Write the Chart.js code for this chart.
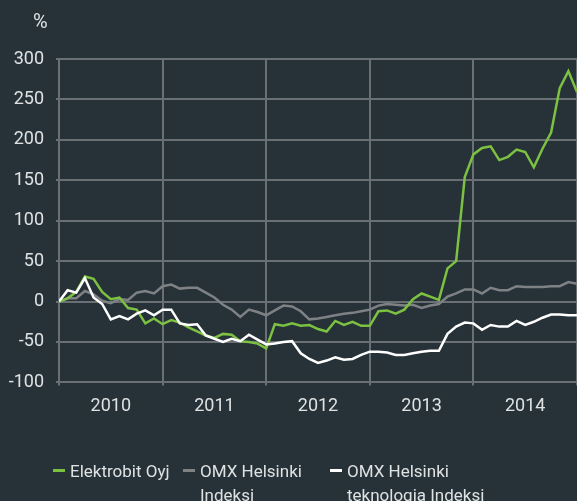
<!DOCTYPE html>
<html>
<head>
<meta charset="utf-8">
<script src="https://cdn.jsdelivr.net/npm/chart.js@4.4.0/dist/chart.umd.min.js"></script>
<style>
  html, body { margin: 0; padding: 0; background: #263238; }
  #wrap { position: relative; width: 577px; height: 501px; overflow: hidden; font-family: Roboto, sans-serif; color: #dfe2e3; }
  #unit { position: absolute; left: 33px; top: 9px; font-size: 20px; }
  .item { position: absolute; top: 459px; font-size: 17px; line-height: 24px; }
  .item .mark { position: absolute; left: -17px; top: 10px; width: 12px; height: 3px; }
</style>
</head>
<body>
<div id="wrap">
  <canvas id="chart"></canvas>
  <div id="unit">%</div>
  <div id="legend"></div>
</div>
<script>
const years = ["2010", "2011", "2012", "2013", "2014"];
const seriesNames = [["Elektrobit Oyj"], ["OMX Helsinki", "Indeksi"], ["OMX Helsinki", "teknologia Indeksi"]];

// monthly change %, starting point = 0
const elektrobit = [0, 4, 12, 31, 28, 12, 3, 5, -8, -10, -27, -21, -28, -23, -26, -32, -37, -42, -45, -40,
  -41, -49, -50, -52, -58, -28, -30, -27, -30, -29, -34, -37, -24, -29, -25, -30, -30, -12, -11, -15,
  -10, 3, 10, 6, 2, 41, 50, 154, 182, 190, 192, 175, 179, 188, 185, 166, 189, 209, 264, 285, 259];
const omxHelsinki = [0, 4, 4, 13, 9, 1, -2, 3, 2, 11, 13, 10, 19, 21, 16, 17, 17, 11, 5, -4,
  -10, -19, -10, -13, -17, -11, -5, -6, -12, -22, -21, -19, -17, -15, -14, -12, -10, -5, -3, -4,
  -5, -4, -8, -5, -3, 6, 10, 15, 15, 10, 17, 14, 14, 19, 18, 18, 18, 19, 19, 24, 22];
const omxTekno = [0, 14, 11, 29, 5, -3, -22, -18, -22, -15, -11, -17, -10, -10, -27, -29, -28, -42, -46, -50,
  -46, -49, -41, -47, -53, -52, -50, -49, -64, -71, -76, -73, -69, -72, -71, -66, -62, -62, -63, -66,
  -66, -64, -62, -61, -61, -40, -31, -26, -27, -35, -29, -31, -31, -24, -29, -25, -20, -16, -16, -17, -17];

const colors = ["#7cc142", "#7e8285", "#ffffff"];
const gridColor = "#6a7074";
const textColor = "#dfe2e3";

const toPoints = (arr) => arr.map((v, i) => ({ x: i, y: v }));

const ctx = document.getElementById("chart").getContext("2d");
new Chart(ctx, {
  type: "line",
  data: {
    datasets: [
      { label: seriesNames[0].join(" "), data: toPoints(elektrobit), borderColor: colors[0], order: 1 },
      { label: seriesNames[1].join(" "), data: toPoints(omxHelsinki), borderColor: colors[1], order: 2 },
      { label: seriesNames[2].join(" "), data: toPoints(omxTekno), borderColor: colors[2], order: 0 },
    ],
  },
  options: {
    responsive: true,
    maintainAspectRatio: false,
    animation: false,
    layout: { padding: { top: 59, left: 0, right: 0, bottom: 74 } },
    elements: {
      line: { borderWidth: 2.5, tension: 0 },
      point: { radius: 0 },
    },
    plugins: { legend: { display: false }, tooltip: { enabled: false } },
    scales: {
      x: {
        type: "linear",
        min: 0,
        max: 60,
        afterBuildTicks: (axis) => {
          axis.ticks = [0, 6, 12, 18, 24, 30, 36, 42, 48, 54, 60].map((v) => ({ value: v }));
        },
        afterFit: (s) => { s.paddingLeft = 0; s.paddingRight = 0; },
        ticks: {
          autoSkip: false,
          maxRotation: 0,
          color: textColor,
          padding: 10,
          font: { family: "Roboto", size: 18 },
          callback: (v) => (v % 12 === 6 ? years[(v - 6) / 12] : ""),
        },
        grid: {
          color: (c) => (c.tick && c.tick.value % 12 === 0 ? gridColor : "rgba(0,0,0,0)"),
          lineWidth: 2,
          tickLength: 3,
        },
        border: { display: false },
      },
      y: {
        min: -100,
        max: 300,
        afterFit: (s) => { s.width = 59; },
        ticks: {
          stepSize: 50,
          color: textColor,
          padding: 12,
          font: { family: "Roboto", size: 18 },
        },
        grid: { color: gridColor, lineWidth: 2, tickLength: 3 },
        border: { display: false },
      },
    },
  },
});

// legend below the chart
const legendX = [70, 200, 347];
const legend = document.getElementById("legend");
seriesNames.forEach((lines, i) => {
  const item = document.createElement("div");
  item.className = "item";
  item.style.left = legendX[i] + "px";
  item.innerHTML = '<span class="mark" style="background:' + colors[i] + '"></span>' + lines.join("<br>");
  legend.appendChild(item);
});
</script>
</body>
</html>
